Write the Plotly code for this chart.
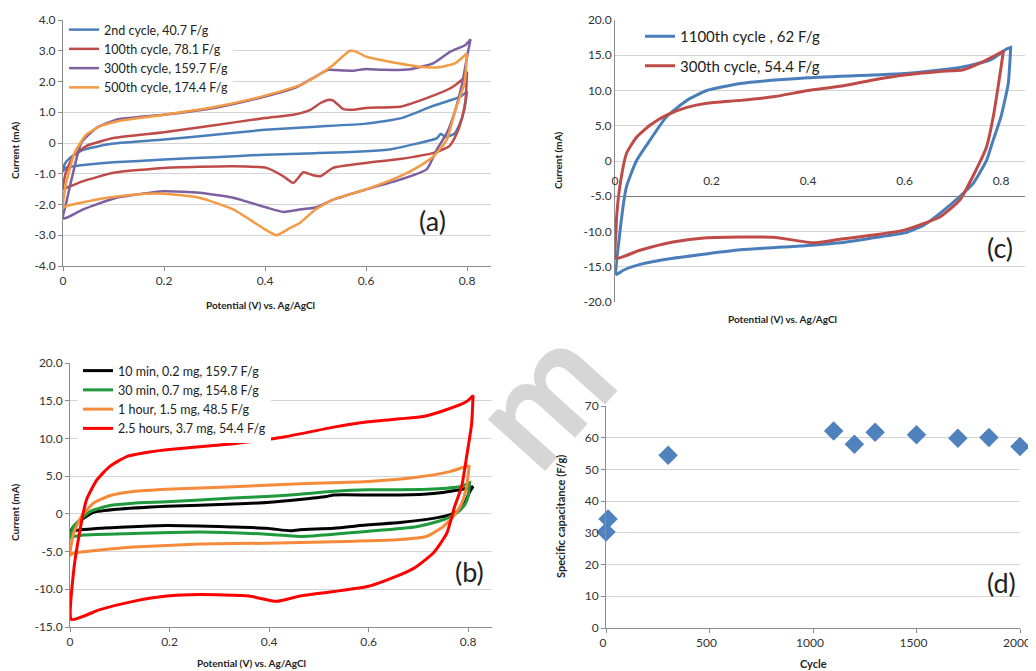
import plotly.graph_objects as go

# ---------------- Panel (a) data ----------------
a_names = ["2nd cycle, 40.7 F/g", "100th cycle, 78.1 F/g", "300th cycle, 159.7 F/g", "500th cycle, 174.4 F/g"]
a_colors = ["#4A7EBB", "#BE4B48", "#7D60A0", "#F39A45"]

a_blue_up_v = [0, 0.003, 0.013, 0.04, 0.1, 0.2, 0.3, 0.4, 0.5, 0.6, 0.67, 0.73, 0.787, 0.8]
a_blue_up_i = [-0.92, -0.7, -0.49, -0.22, -0.02, 0.11, 0.27, 0.43, 0.53, 0.63, 0.81, 1.19, 1.51, 1.68]
a_blue_dn_v = [0.8, 0.795, 0.785, 0.775, 0.757, 0.748, 0.74, 0.7, 0.65, 0.6, 0.5, 0.4, 0.3, 0.2, 0.1, 0.05, 0.02, 0.005, 0]
a_blue_dn_i = [1.68, 1.1, 0.6, 0.3, 0.2, 0.3, 0.15, -0.02, -0.2, -0.27, -0.33, -0.38, -0.46, -0.54, -0.63, -0.7, -0.76, -0.81, -0.92]

a_red_up_v = [0, 0.005, 0.02, 0.046, 0.1, 0.2, 0.3, 0.4, 0.456, 0.49, 0.51, 0.525, 0.535, 0.555, 0.575, 0.6, 0.67, 0.72, 0.767, 0.793, 0.8]
a_red_up_i = [-1.5, -1.0, -0.43, -0.1, 0.16, 0.35, 0.58, 0.81, 0.92, 1.08, 1.3, 1.4, 1.38, 1.1, 1.08, 1.14, 1.19, 1.46, 1.78, 2.1, 2.32]
a_red_dn_v = [0.8, 0.797, 0.79, 0.78, 0.765, 0.734, 0.667, 0.6, 0.535, 0.51, 0.495, 0.476, 0.456, 0.436, 0.403, 0.337, 0.2, 0.1, 0.04, 0.007, 0]
a_red_dn_i = [2.32, 1.4, 0.8, 0.32, -0.1, -0.32, -0.52, -0.65, -0.81, -1.08, -1.05, -0.95, -1.3, -1.08, -0.81, -0.76, -0.81, -0.97, -1.24, -1.46, -1.5]

a_pur_up_v = [0, 0.007, 0.02, 0.036, 0.066, 0.106, 0.2, 0.3, 0.4, 0.463, 0.5, 0.525, 0.555, 0.575, 0.6, 0.635, 0.688, 0.734, 0.767, 0.797, 0.807]
a_pur_up_i = [-2.45, -1.9, -0.97, 0.0, 0.49, 0.76, 0.92, 1.14, 1.51, 1.82, 2.16, 2.38, 2.36, 2.35, 2.41, 2.38, 2.4, 2.6, 2.97, 3.19, 3.37]
a_pur_dn_v = [0.807, 0.8, 0.79, 0.777, 0.76, 0.74, 0.72, 0.668, 0.6, 0.535, 0.5, 0.469, 0.436, 0.403, 0.337, 0.27, 0.2, 0.106, 0.04, 0.007, 0]
a_pur_dn_i = [3.37, 2.8, 1.9, 1.08, 0.32, -0.22, -0.86, -1.19, -1.51, -1.84, -2.1, -2.16, -2.24, -2.1, -1.78, -1.62, -1.57, -1.78, -2.16, -2.43, -2.45]

a_or_up_v = [0, 0.005, 0.023, 0.046, 0.073, 0.106, 0.2, 0.3, 0.4, 0.47, 0.507, 0.535, 0.568, 0.58, 0.6, 0.635, 0.701, 0.744, 0.777, 0.8]
a_or_up_i = [-2.1, -1.4, -0.32, 0.27, 0.54, 0.7, 0.92, 1.17, 1.54, 1.89, 2.22, 2.54, 3.0, 2.97, 2.81, 2.68, 2.49, 2.46, 2.6, 2.92]
a_or_dn_v = [0.8, 0.795, 0.777, 0.76, 0.734, 0.7, 0.668, 0.6, 0.535, 0.5, 0.469, 0.45, 0.423, 0.4, 0.337, 0.27, 0.2, 0.139, 0.073, 0.007, 0]
a_or_dn_i = [2.92, 1.95, 1.08, 0.11, -0.43, -0.81, -1.08, -1.51, -1.84, -2.16, -2.6, -2.76, -3.0, -2.81, -2.16, -1.78, -1.65, -1.68, -1.82, -2.05, -2.1]

# ---------------- Panel (c) data ----------------
c_names = ["1100th cycle , 62 F/g", "300th cycle, 54.4 F/g"]
c_colors = ["#4A7EBB", "#BE4B48"]
c_blue_up_v = [0.003, 0.01, 0.024, 0.045, 0.073, 0.107, 0.149, 0.19, 0.26, 0.4, 0.535, 0.6, 0.708, 0.777, 0.812, 0.82]
c_blue_up_i = [-16.1, -10.2, -3.6, 0.1, 3.0, 6.3, 8.6, 10.0, 11.0, 11.8, 12.2, 12.4, 13.2, 14.3, 15.9, 16.1]
c_blue_dn_v = [0.82, 0.815, 0.8, 0.784, 0.77, 0.742, 0.715, 0.674, 0.64, 0.6, 0.535, 0.466, 0.4, 0.26, 0.12, 0.05, 0.017, 0.003]
c_blue_dn_i = [16.1, 11.0, 6.3, 3.0, 0.1, -3.2, -5.0, -7.4, -9.1, -10.2, -10.9, -11.6, -12.0, -12.6, -13.8, -14.7, -15.5, -16.1]
c_red_up_v = [0.002, 0.002, 0.004, 0.01, 0.024, 0.045, 0.073, 0.107, 0.149, 0.19, 0.26, 0.328, 0.4, 0.466, 0.535, 0.6, 0.674, 0.72, 0.763, 0.805]
c_red_up_i = [-13.8, -10.0, -7.4, -3.6, 1.1, 3.4, 5.1, 6.5, 7.6, 8.2, 8.6, 9.1, 10.0, 10.6, 11.5, 12.2, 12.7, 12.9, 14.1, 15.6]
c_red_dn_v = [0.805, 0.795, 0.784, 0.77, 0.748, 0.715, 0.674, 0.6, 0.535, 0.466, 0.411, 0.328, 0.19, 0.12, 0.05, 0.002]
c_red_dn_i = [15.6, 11.0, 6.3, 2.0, -1.3, -5.5, -7.9, -9.8, -10.5, -11.1, -11.6, -10.8, -10.9, -11.5, -12.7, -13.8]

# ---------------- Panel (b) data ----------------
b_names = ["10 min, 0.2 mg, 159.7 F/g", "30 min, 0.7 mg, 154.8 F/g", "1 hour, 1.5 mg, 48.5 F/g", "2.5 hours, 3.7 mg, 54.4 F/g"]
b_colors = ["#000000", "#1E9A3C", "#F58A3A", "#FF0000"]
b_bk_up_v = [0.0, 0.007, 0.027, 0.047, 0.094, 0.194, 0.328, 0.395, 0.462, 0.515, 0.53, 0.6, 0.663, 0.73, 0.783, 0.81]
b_bk_up_i = [-2.5, -1.7, -0.6, 0.2, 0.6, 1.0, 1.3, 1.5, 1.9, 2.3, 2.5, 2.5, 2.5, 2.7, 3.2, 3.6]
b_bk_dn_v = [0.81, 0.803, 0.793, 0.783, 0.763, 0.73, 0.663, 0.6, 0.53, 0.462, 0.442, 0.395, 0.328, 0.194, 0.06, 0.003, 0.0]
b_bk_dn_i = [3.6, 2.9, 1.4, 0.5, -0.13, -0.6, -1.15, -1.45, -1.9, -2.1, -2.25, -1.9, -1.75, -1.55, -1.9, -2.3, -2.5]
b_gr_up_v = [0.0, 0.007, 0.02, 0.04, 0.08, 0.127, 0.194, 0.328, 0.395, 0.462, 0.53, 0.6, 0.663, 0.73, 0.783, 0.803]
b_gr_up_i = [-3.2, -1.7, -0.8, 0.3, 1.1, 1.4, 1.6, 2.1, 2.3, 2.6, 3.0, 3.2, 3.2, 3.3, 3.6, 4.1]
b_gr_dn_v = [0.803, 0.8, 0.793, 0.777, 0.75, 0.696, 0.6, 0.462, 0.395, 0.26, 0.127, 0.027, 0.003, 0.0]
b_gr_dn_i = [4.1, 2.3, 1.2, 0.1, -0.8, -1.7, -2.3, -3.0, -2.7, -2.4, -2.6, -2.8, -3.1, -3.2]
b_or_up_v = [0.0, 0.007, 0.023, 0.047, 0.08, 0.127, 0.194, 0.328, 0.462, 0.6, 0.696, 0.763, 0.8, 0.802]
b_or_up_i = [-5.5, -2.6, -0.35, 1.4, 2.4, 2.95, 3.26, 3.6, 4.0, 4.3, 4.85, 5.6, 6.35, 6.3]
b_or_dn_v = [0.802, 0.797, 0.787, 0.773, 0.75, 0.716, 0.663, 0.53, 0.395, 0.26, 0.127, 0.06, 0.007, 0.0]
b_or_dn_i = [6.3, 3.6, 1.4, -0.13, -1.7, -3.0, -3.4, -3.7, -3.9, -4.0, -4.4, -4.8, -5.2, -5.5]
b_red_up_v = [0.003, 0.007, 0.017, 0.033, 0.054, 0.08, 0.114, 0.16, 0.194, 0.26, 0.328, 0.43, 0.53, 0.6, 0.663, 0.71, 0.756, 0.797, 0.81]
b_red_up_i = [-14.0, -7.8, -3.3, 1.85, 4.5, 6.3, 7.6, 8.2, 8.5, 8.9, 9.3, 10.2, 11.5, 12.2, 12.6, 12.9, 13.8, 14.9, 15.7]
b_red_dn_v = [0.81, 0.807, 0.797, 0.787, 0.773, 0.757, 0.73, 0.696, 0.663, 0.6, 0.53, 0.462, 0.415, 0.36, 0.26, 0.194, 0.127, 0.06, 0.003]
b_red_dn_i = [15.7, 11.9, 7.6, 3.6, 1.0, -2.6, -5.2, -7.0, -8.1, -9.6, -10.3, -10.9, -11.6, -10.9, -10.7, -10.9, -11.6, -12.7, -14.0]

# ---------------- Panel (d) data ----------------
d_cycle = [0, 10, 300, 1100, 1200, 1300, 1500, 1700, 1850, 2000]
d_cap = [30.3, 34.4, 54.5, 62.1, 57.9, 61.7, 60.9, 59.8, 60.1, 57.2]

# tick labels
a_ytick = [4, 3, 2, 1, 0, -1, -2, -3, -4]
a_ytext = ["4.0", "3.0", "2.0", "1.0", "0", "-1.0", "-2.0", "-3.0", "-4.0"]
b_ytick = [20, 15, 10, 5, 0, -5, -10, -15]
b_ytext = ["20.0", "15.0", "10.0", "5.0", "0", "-5.0", "-10.0", "-15.0"]
c_ytick = [20, 15, 10, 5, 0, -5, -10, -15, -20]
c_ytext = ["20.0", "15.0", "10.0", "5.0", "0", "-5.0", "-10.0", "-15.0", "-20.0"]
v_tick = [0, 0.2, 0.4, 0.6, 0.8]
v_text = ["0", "0.2", "0.4", "0.6", "0.8"]
d_xtick = [0, 500, 1000, 1500, 2000]
d_ytick = [0, 10, 20, 30, 40, 50, 60, 70]

FONT = "Lato"
# the page body adds an 8px margin, so the figure fills the rest of the window
OFF = 8
W, H = 1036 - OFF, 671 - OFF
def px_x(p): return (p - OFF) / W
def px_y(p): return 1 - (p - OFF) / H

fig = go.Figure()

def loop(uv, ui, dv, di):
    return uv + dv, ui + di

LS = dict(shape="spline", smoothing=0.5)

a_sets = [(a_blue_up_v, a_blue_up_i, a_blue_dn_v, a_blue_dn_i),
          (a_red_up_v, a_red_up_i, a_red_dn_v, a_red_dn_i),
          (a_pur_up_v, a_pur_up_i, a_pur_dn_v, a_pur_dn_i),
          (a_or_up_v, a_or_up_i, a_or_dn_v, a_or_dn_i)]
for name, col, s in zip(a_names, a_colors, a_sets):
    x, y = loop(*s)
    fig.add_trace(go.Scatter(x=x, y=y, mode="lines", name=name, line=dict(color=col, width=2.5, **LS),
                             xaxis="x", yaxis="y", legend="legend"))

c_sets = [(c_blue_up_v, c_blue_up_i, c_blue_dn_v, c_blue_dn_i),
          (c_red_up_v, c_red_up_i, c_red_dn_v, c_red_dn_i)]
for k, (name, col, s) in enumerate(zip(c_names, c_colors, c_sets)):
    x, y = loop(*s)
    fig.add_trace(go.Scatter(x=x, y=y, mode="lines", name=name, line=dict(color=col, width=3, **LS),
                             xaxis="x2", yaxis="y2", legend="legend2", legendgroup="c%d" % k))

b_sets = [(b_bk_up_v, b_bk_up_i, b_bk_dn_v, b_bk_dn_i),
          (b_gr_up_v, b_gr_up_i, b_gr_dn_v, b_gr_dn_i),
          (b_or_up_v, b_or_up_i, b_or_dn_v, b_or_dn_i),
          (b_red_up_v, b_red_up_i, b_red_dn_v, b_red_dn_i)]
for name, col, s in zip(b_names, b_colors, b_sets):
    x, y = loop(*s)
    fig.add_trace(go.Scatter(x=x, y=y, mode="lines", name=name, line=dict(color=col, width=3, **LS),
                             xaxis="x3", yaxis="y3", legend="legend3"))

fig.add_trace(go.Scatter(x=d_cycle, y=d_cap, mode="markers", showlegend=False, cliponaxis=False,
                         marker=dict(symbol="diamond", size=15, color="#4F81BD"),
                         xaxis="x4", yaxis="y4"))

GRID = "#D4D4D4"
AXL = "#8C8C8C"
TF = dict(family=FONT, size=12, color="#333333")

def xax(domain, rng, anchor, tickvals, ticktext, ticks="outside"):
    return dict(domain=domain, range=rng, anchor=anchor, tickvals=tickvals, ticktext=ticktext,
                showgrid=False, zeroline=False, showline=True, linecolor=AXL, linewidth=1,
                ticks=ticks, ticklen=4, tickcolor=AXL, tickfont=TF, fixedrange=True, automargin=False)

def yax(domain, rng, anchor, tickvals, ticktext, ticks="outside"):
    return dict(domain=domain, range=rng, anchor=anchor, tickvals=tickvals, ticktext=ticktext,
                showgrid=True, gridcolor=GRID, gridwidth=1, zeroline=False, showline=True,
                linecolor=AXL, linewidth=1, ticks=ticks, ticklen=4, tickcolor=AXL, tickfont=TF,
                fixedrange=True, automargin=False)

a_xd = [px_x(63), px_x(491)]
a_yd = [px_y(266), px_y(20)]
c_xd = [px_x(615), px_x(1025)]
c_yd = [px_y(302), px_y(20)]
b_xd = [px_x(70), px_x(492)]
b_yd = [px_y(627), px_y(363)]
d_xd = [px_x(606), px_x(1020)]
d_yd = [px_y(628), px_y(406)]

# panel (c): horizontal axis line drawn at I = -5
c_xaxis_pos = c_yd[0] + (c_yd[1] - c_yd[0]) * (15 / 40)

fig.update_layout(
    width=W, height=H, margin=dict(l=0, r=0, t=0, b=0),
    paper_bgcolor="white", plot_bgcolor="white",
    xaxis=xax(a_xd, [0, 0.8475], "y", v_tick, v_text),
    yaxis=yax(a_yd, [-4, 4], "x", a_ytick, a_ytext),
    xaxis2=dict(xax(c_xd, [0, 0.8497], "free", v_tick, v_text, ticks=""),
                position=c_xaxis_pos, ticklabelstandoff=-27, linecolor="#7A7A7A"),
    yaxis2=yax(c_yd, [-20, 20], "x2", c_ytick, c_ytext, ticks=""),
    xaxis3=xax(b_xd, [0, 0.848], "y3", v_tick, v_text),
    yaxis3=yax(b_yd, [-15, 20], "x3", b_ytick, b_ytext),
    xaxis4=dict(xax(d_xd, [0, 2000], "y4", d_xtick, [str(v) for v in d_xtick]), ticklabelshift=-3),
    yaxis4=yax(d_yd, [0, 70], "x4", d_ytick, [str(v) for v in d_ytick]),
    legend=dict(x=px_x(64), y=px_y(15), xanchor="left", yanchor="top", bgcolor="white",
                font=dict(family=FONT, size=12.5, color="#222"), borderwidth=0, tracegroupgap=0),
    legend2=dict(x=px_x(640), y=px_y(20), xanchor="left", yanchor="top", bgcolor="rgba(0,0,0,0)",
                 font=dict(family=FONT, size=15, color="#222"), borderwidth=0, tracegroupgap=7),
    legend3=dict(x=px_x(78), y=px_y(356), xanchor="left", yanchor="top", bgcolor="white",
                 font=dict(family=FONT, size=12.5, color="#222"), borderwidth=0, tracegroupgap=0),
)

def ann(x, y, text, size, bold=False, angle=0, color="#222"):
    fig.add_annotation(x=px_x(x), y=px_y(y), xref="paper", yref="paper", text=text, showarrow=False,
                       textangle=angle, xanchor="center", yanchor="middle",
                       font=dict(family=FONT, size=size, color=color, weight="bold" if bold else "normal"))

# watermark fragment
ann(538, 392, "m", 150, bold=True, angle=-48, color="#D6D6D6")

# axis titles
ann(260, 305, "Potential (V) vs. Ag/AgCl", 10, bold=True)
ann(782, 319, "Potential (V) vs. Ag/AgCl", 10, bold=True)
ann(251, 663, "Potential (V) vs. Ag/AgCl", 10, bold=True)
ann(813, 663, "Cycle", 11, bold=True)
ann(15, 150, "Current (mA)", 10, bold=True, angle=-90)
ann(558, 160, "Current (mA)", 10, bold=True, angle=-90)
ann(15, 512, "Current (mA)", 10, bold=True, angle=-90)
ann(560, 517, "Specific capacitance (F/g)", 11, bold=True, angle=-90)

# panel labels
ann(432, 221, "(a)", 27)
ann(1000, 247, "(c)", 27)
ann(469, 571, "(b)", 27)
ann(1001, 582, "(d)", 27)

fig.write_html("out.html")
